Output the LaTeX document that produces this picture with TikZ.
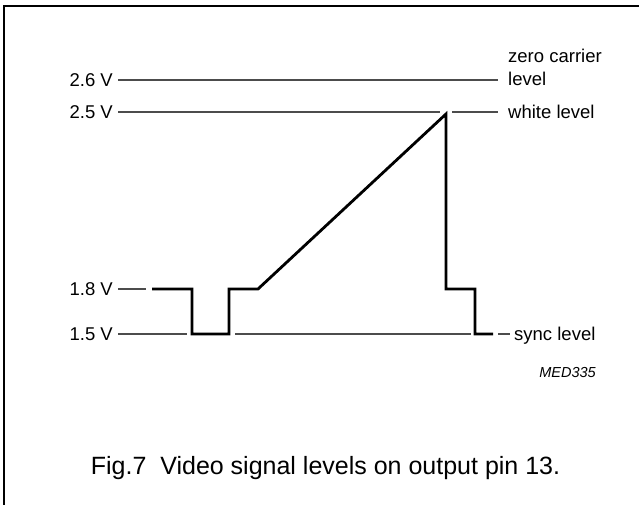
\documentclass[tikz,border=0pt]{standalone}
\usepackage{fontspec}
\setmainfont{Liberation Sans}
\begin{document}
\begin{tikzpicture}[x=1pt,y=-1pt,
  lbl/.style={font=\fontsize{18.5}{22}\selectfont, inner sep=0pt},
  lvl/.style={line width=1.1pt, draw=black!70},
  sig/.style={line width=2.8pt, line join=miter, line cap=butt},
  frame/.style={line width=2pt}]
\useasboundingbox (0,0) rectangle (639,505);
% frame
\coordinate (f0) at (4,505);
\coordinate (f1) at (4,6);
\coordinate (f2) at (639,6);
\draw[frame] (f0) -- (f1) -- (f2);
% left labels
\node[lbl, anchor=base east] (l26) at (113,86.5) {2.6 V};
\node[lbl, anchor=base east] (l25) at (113,118.5) {2.5 V};
\node[lbl, anchor=base east] (l18) at (113,295.5) {1.8 V};
\node[lbl, anchor=base east] (l15) at (113,340.5) {1.5 V};
% right labels
\node[lbl, anchor=base west] (zc1) at (508,63) {zero carrier};
\node[lbl, anchor=base west] (zc2) at (508,85.5) {level};
\node[lbl, anchor=base west] (wl) at (508,118.5) {white level};
\node[lbl, anchor=base west] (sl) at (514,340) {sync level};
\node[font=\fontsize{14.5}{17}\selectfont\itshape, anchor=base east, inner sep=0pt] (med) at (596,377) {MED335};
\node[font=\fontsize{25}{30}\selectfont, anchor=base, inner sep=0pt] (cap) at (325.5,474) {Fig.7~ Video signal levels on output pin 13.};
% level lines
\coordinate (a26) at (118,80);   \coordinate (b26) at (498,80);
\coordinate (a25) at (118,112);  \coordinate (b25) at (440,112);
\coordinate (c25) at (452,112);  \coordinate (d25) at (498,112);
\coordinate (a18) at (118,289);  \coordinate (b18) at (146,289);
\coordinate (a15) at (118,334);  \coordinate (b15) at (187,334);
\coordinate (c15) at (235,334);  \coordinate (d15) at (471,334);
\coordinate (e15) at (498,334);  \coordinate (g15) at (510,334);
\draw[lvl] (a26) -- (b26);
\draw[lvl] (a25) -- (b25);
\draw[lvl] (c25) -- (d25);
\draw[lvl] (a18) -- (b18);
\draw[lvl] (a15) -- (b15);
\draw[lvl] (c15) -- (d15);
\draw[lvl] (e15) -- (g15);
% signal
\coordinate (s0) at (152,289);
\coordinate (s1) at (192,289);
\coordinate (s2) at (192,334);
\coordinate (s3) at (229,334);
\coordinate (s4) at (229,289);
\coordinate (s5) at (258,289);
\coordinate (pk) at (446,114);
\coordinate (s6) at (446,289);
\coordinate (s7) at (475,289);
\coordinate (s8) at (475,334);
\coordinate (s9) at (493,334);
\draw[sig] (s0) -- (s1) -- (s2) -- (s3) -- (s4) -- (s5) -- (pk) -- (s6) -- (s7) -- (s8) -- (s9);
\end{tikzpicture}
\end{document}
